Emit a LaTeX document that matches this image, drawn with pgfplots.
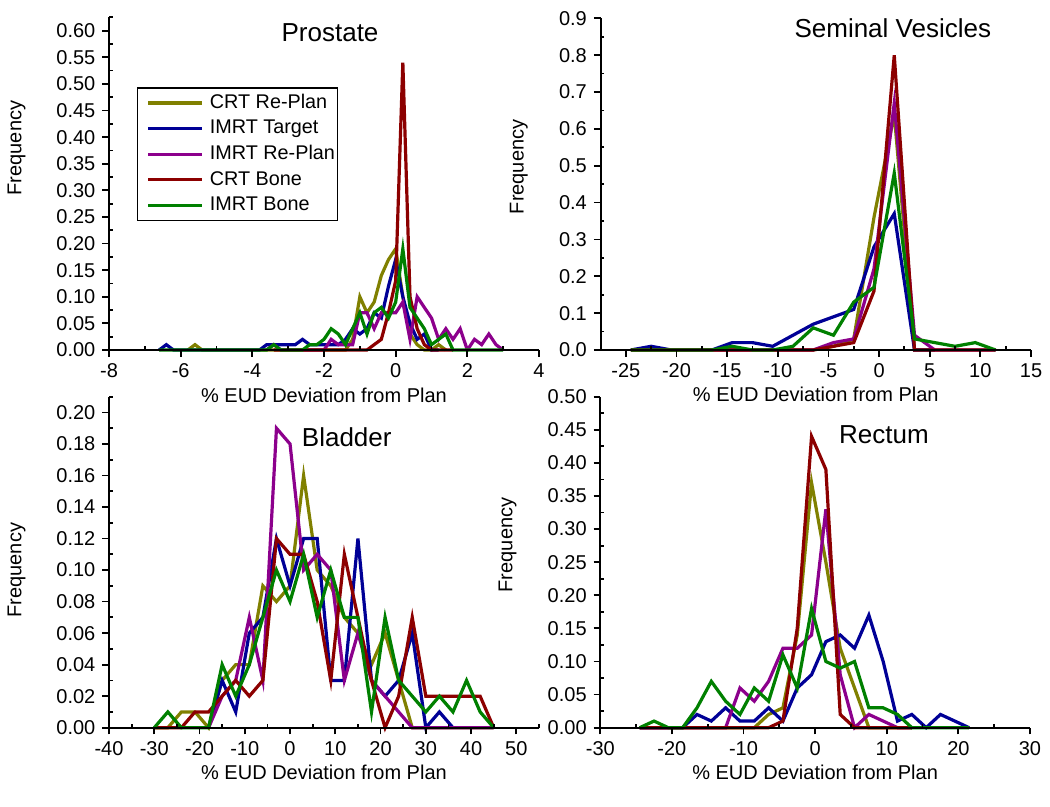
\documentclass[border=0pt]{standalone}
\usepackage{fontspec}
\setmainfont{Liberation Sans}
\usepackage{pgfplots}
\pgfplotsset{compat=1.18}

\definecolor{cOlive}{RGB}{128,128,0}
\definecolor{cNavy}{RGB}{0,0,150}
\definecolor{cPurple}{RGB}{140,0,140}
\definecolor{cWine}{RGB}{140,0,0}
\definecolor{cGreen}{RGB}{0,128,0}

\pgfplotsset{
  panel/.style={
    scale only axis,
    axis lines*=left,
    axis on top,
    clip=false,
    axis line style={line width=1pt, black},
    tick align=outside,
    major tick length=3.3pt,
    minor tick length=-1.8pt,
    every tick/.style={line width=0.9pt, black},
    tick label style={font=\fontsize{10}{12}\selectfont},
    /pgf/number format/assume math mode=true,
    label style={font=\fontsize{10}{12}\selectfont},
    xlabel={\% EUD Deviation from Plan},
    ylabel={Frequency},
    xlabel style={at={(axis description cs:0.5,-0.135)}, anchor=center},
    every axis plot/.append style={line width=1.6pt, mark=none},
  },
  yfmt2/.style={yticklabel style={/pgf/number format/.cd, fixed, fixed zerofill, precision=2}},
  yfmt1/.style={yticklabel style={/pgf/number format/.cd, fixed, fixed zerofill, precision=1}},
}

\begin{document}
\begin{tikzpicture}
\useasboundingbox (0pt,0pt) rectangle (525pt,403.5pt);

% ---------------- Prostate ----------------
\begin{axis}[panel, yfmt2,
  at={(54.5pt,228.5pt)}, anchor=south west,
  width=215pt, height=166.3pt,
  xmin=-8, xmax=4, ymin=0, ymax=0.625,
  xtick={-8,-6,-4,-2,0,2,4},
  minor xtick={-7,-5,-3,-1,1,3},
  ytick={0,0.05,0.1,0.15,0.2,0.25,0.3,0.35,0.4,0.45,0.5,0.55,0.6},
  minor ytick={0.025,0.075,0.125,0.175,0.225,0.275,0.325,0.375,0.425,0.475,0.525,0.575,0.625},
  ylabel style={at={(axis description cs:-0.215,0.607)}, anchor=center},
  legend style={at={(axis description cs:0.064,0.790)}, anchor=north west,
    draw=black, line width=0.8pt, font=\fontsize{9.9}{11.5}\selectfont,
    inner xsep=1.2pt, inner ysep=2.9pt, row sep=3.6pt, column sep=3pt,
    nodes={inner sep=0pt, text height=7.2pt, text depth=2pt},
    cells={anchor=west}},
  legend image code/.code={\path (0pt,0pt); \draw[#1] (3.5pt,0pt) -- (30.5pt,0pt);},
]
\addplot[cOlive] coordinates {(-5.8,0)(-5.6,0.01)(-5.4,0)(-1.4,0)(-1.2,0.02)(-1.0,0.10)(-0.8,0.07)(-0.6,0.09)(-0.4,0.14)(-0.2,0.17)(0.0,0.19)(0.2,0.10)(0.4,0.03)(0.6,0.01)(0.8,0)(1.0,0)(1.2,0.01)(1.4,0)};
\addlegendentry{CRT Re-Plan}
\addplot[cNavy] coordinates {(-6.6,0)(-6.4,0.01)(-6.2,0)(-3.8,0)(-3.6,0.01)(-3.4,0.01)(-3.2,0.01)(-3.0,0.01)(-2.8,0.01)(-2.6,0.02)(-2.4,0.01)(-2.2,0.01)(-2.0,0.01)(-1.8,0.01)(-1.6,0.01)(-1.4,0.02)(-1.2,0.04)(-1.0,0.03)(-0.8,0.04)(-0.6,0.07)(-0.4,0.06)(-0.2,0.12)(0.0,0.17)(0.2,0.10)(0.4,0.05)(0.6,0.02)(0.8,0.03)(1.0,0)(1.2,0)};
\addlegendentry{IMRT Target}
\addplot[cPurple] coordinates {(-3.6,0)(-3.4,0.01)(-3.2,0)(-2.0,0)(-1.8,0.02)(-1.6,0.01)(-1.4,0.01)(-1.2,0.01)(-1.0,0.07)(-0.8,0.07)(-0.6,0.04)(-0.4,0.07)(-0.2,0.07)(0.0,0.07)(0.2,0.09)(0.4,0.02)(0.6,0.10)(0.8,0.08)(1.0,0.06)(1.2,0.02)(1.4,0.04)(1.6,0.02)(1.8,0.04)(2.0,0)(2.2,0.02)(2.4,0.01)(2.6,0.03)(2.8,0.01)(3.0,0)};
\addlegendentry{IMRT Re-Plan}
\addplot[cWine] coordinates {(-3.4,0)(-0.8,0)(-0.6,0.01)(-0.4,0.02)(-0.2,0.07)(0.0,0.13)(0.2,0.54)(0.4,0.10)(0.6,0.04)(0.8,0.01)(1.0,0)(1.6,0)};
\addlegendentry{CRT Bone}
\addplot[cGreen] coordinates {(-6.6,0)(-3.6,0)(-3.4,0.01)(-3.2,0)(-2.6,0)(-2.4,0.01)(-2.2,0.01)(-2.0,0.02)(-1.8,0.04)(-1.6,0.03)(-1.4,0.01)(-1.2,0.04)(-1.0,0.07)(-0.8,0.03)(-0.6,0.07)(-0.4,0.08)(-0.2,0.06)(0.0,0.09)(0.2,0.19)(0.4,0.08)(0.6,0.06)(0.8,0.04)(1.0,0.01)(1.2,0.02)(1.4,0.03)(1.6,0)(3.0,0)};
\addlegendentry{IMRT Bone}
\node[font=\fontsize{13}{15}\selectfont] at (axis description cs:0.514,0.953) {Prostate};
\end{axis}

% ---------------- Seminal Vesicles ----------------
\begin{axis}[panel, yfmt1,
  at={(300.25pt,228.5pt)}, anchor=south west,
  width=215.25pt, height=165.85pt,
  xmin=-27.5, xmax=15, ymin=0, ymax=0.9,
  xtick={-25,-20,-15,-10,-5,0,5,10,15},
  minor xtick={-27.5,-22.5,-17.5,-12.5,-7.5,-2.5,2.5,7.5,12.5},
  ytick={0,0.1,0.2,0.3,0.4,0.5,0.6,0.7,0.8,0.9},
  minor ytick={0.05,0.15,0.25,0.35,0.45,0.55,0.65,0.75,0.85},
  ylabel style={at={(axis description cs:-0.190,0.552)}, anchor=center},
]
\addplot[cOlive] coordinates {(-24.5,0)(-6.5,0)(-4.5,0.01)(-2.5,0.03)(-0.5,0.36)(1.5,0.64)(3.5,0)(5.5,0)};
\addplot[cNavy] coordinates {(-24.5,0)(-22.5,0.01)(-20.5,0)(-16.5,0)(-14.5,0.02)(-12.5,0.02)(-10.5,0.01)(-8.5,0.04)(-6.5,0.07)(-4.5,0.09)(-2.5,0.11)(-0.5,0.28)(1.5,0.37)(3.5,0)(5.5,0)};
\addplot[cPurple] coordinates {(-24.5,0)(-6.5,0)(-4.5,0.02)(-2.5,0.03)(-0.5,0.22)(1.5,0.67)(3.5,0.04)(5.5,0)(11.5,0)};
\addplot[cWine] coordinates {(-24.5,0)(-6.5,0)(-4.5,0.01)(-2.5,0.02)(-0.5,0.16)(1.5,0.80)(3.5,0)(11.5,0)};
\addplot[cGreen] coordinates {(-24.5,0)(-16.5,0)(-14.5,0.01)(-12.5,0)(-10.5,0)(-8.5,0.01)(-6.5,0.06)(-4.5,0.04)(-2.5,0.13)(-0.5,0.17)(1.5,0.48)(3.5,0.03)(5.5,0.02)(7.5,0.01)(9.5,0.02)(11.5,0)};
\node[font=\fontsize{13}{15}\selectfont] at (axis description cs:0.679,0.971) {Seminal Vesicles};
\end{axis}

% ---------------- Bladder ----------------
\begin{axis}[panel, yfmt2,
  at={(54.5pt,39.65pt)}, anchor=south west,
  width=215pt, height=165.5pt,
  xmin=-40, xmax=55, ymin=0, ymax=0.21,
  xtick={-40,-30,-20,-10,0,10,20,30,40,50},
  minor xtick={-35,-25,-15,-5,5,15,25,35,45,55},
  ytick={0,0.02,0.04,0.06,0.08,0.1,0.12,0.14,0.16,0.18,0.2},
  minor ytick={0.01,0.03,0.05,0.07,0.09,0.11,0.13,0.15,0.17,0.19,0.21},
  ylabel style={at={(axis description cs:-0.215,0.476)}, anchor=center},
]
\addplot[cOlive] coordinates {(-30,0)(-27,0)(-24,0.01)(-21,0.01)(-18,0)(-15,0.03)(-12,0.04)(-9,0.04)(-6,0.09)(-3,0.08)(0,0.09)(3,0.16)(6,0.10)(9,0.09)(12,0.07)(15,0.06)(18,0.04)(21,0.06)(24,0.03)(27,0)(45,0)};
\addplot[cNavy] coordinates {(-18,0)(-15,0.03)(-12,0.01)(-9,0.06)(-6,0.07)(-3,0.12)(0,0.09)(3,0.12)(6,0.12)(9,0.03)(12,0.03)(15,0.12)(18,0.03)(21,0.02)(24,0.03)(27,0.06)(30,0)(33,0.01)(36,0)};
\addplot[cPurple] coordinates {(-18,0)(-15,0.02)(-12,0.03)(-9,0.07)(-6,0.03)(-3,0.19)(0,0.18)(3,0.10)(6,0.11)(9,0.10)(12,0.03)(15,0.06)(18,0.03)(21,0.02)(24,0.01)(27,0)(45,0)};
\addplot[cWine] coordinates {(-30,0)(-24,0)(-21,0.01)(-18,0.01)(-15,0.02)(-12,0.03)(-9,0.02)(-6,0.03)(-3,0.12)(0,0.11)(3,0.11)(6,0.08)(9,0.03)(12,0.11)(15,0.07)(18,0.03)(21,0)(24,0.02)(27,0.07)(30,0.02)(33,0.02)(36,0.02)(39,0.02)(42,0.02)(45,0)};
\addplot[cGreen] coordinates {(-30,0)(-27,0.01)(-24,0)(-18,0)(-15,0.04)(-12,0.02)(-9,0.04)(-6,0.07)(-3,0.10)(0,0.08)(3,0.11)(6,0.07)(9,0.10)(12,0.07)(15,0.07)(18,0.01)(21,0.07)(24,0.03)(27,0.02)(30,0.01)(33,0.02)(36,0.01)(39,0.03)(42,0.01)(45,0)};
\node[font=\fontsize{13}{15}\selectfont] at (axis description cs:0.553,0.877) {Bladder};
\end{axis}

% ---------------- Rectum ----------------
\begin{axis}[panel, yfmt2,
  at={(300.15pt,39.65pt)}, anchor=south west,
  width=214.85pt, height=165.5pt,
  xmin=-30, xmax=30, ymin=0, ymax=0.5,
  xtick={-30,-20,-10,0,10,20,30},
  minor xtick={-25,-15,-5,5,15,25},
  ytick={0,0.05,0.1,0.15,0.2,0.25,0.3,0.35,0.4,0.45,0.5},
  minor ytick={0.025,0.075,0.125,0.175,0.225,0.275,0.325,0.375,0.425,0.475},
  ylabel style={at={(axis description cs:-0.216,0.552)}, anchor=center},
]
\addplot[cOlive] coordinates {(-24.5,0)(-8.5,0)(-6.5,0.02)(-4.5,0.03)(-2.5,0.14)(-0.5,0.37)(1.5,0.25)(3.5,0.12)(5.5,0.06)(7.5,0)(13.5,0)};
\addplot[cNavy] coordinates {(-24.5,0)(-18.5,0)(-16.5,0.02)(-14.5,0.01)(-12.5,0.03)(-10.5,0.01)(-8.5,0.01)(-6.5,0.03)(-4.5,0.01)(-2.5,0.06)(-0.5,0.08)(1.5,0.13)(3.5,0.14)(5.5,0.12)(7.5,0.17)(9.5,0.10)(11.5,0.01)(13.5,0.02)(15.5,0)(17.5,0.02)(19.5,0.01)(21.5,0)};
\addplot[cPurple] coordinates {(-24.5,0)(-12.5,0)(-10.5,0.06)(-8.5,0.04)(-6.5,0.07)(-4.5,0.12)(-2.5,0.12)(-0.5,0.14)(1.5,0.33)(3.5,0.08)(5.5,0)(7.5,0.02)(9.5,0.01)(11.5,0)(13.5,0)};
\addplot[cWine] coordinates {(-24.5,0)(-6.5,0)(-4.5,0.01)(-2.5,0.15)(-0.5,0.44)(1.5,0.39)(3.5,0.02)(5.5,0)(13.5,0)};
\addplot[cGreen] coordinates {(-24.5,0)(-22.5,0.01)(-20.5,0)(-18.5,0)(-16.5,0.03)(-14.5,0.07)(-12.5,0.04)(-10.5,0.02)(-8.5,0.06)(-6.5,0.04)(-4.5,0.11)(-2.5,0.06)(-0.5,0.18)(1.5,0.10)(3.5,0.09)(5.5,0.10)(7.5,0.03)(9.5,0.03)(11.5,0.02)(13.5,0)(21.5,0)};
\node[font=\fontsize{13}{15}\selectfont] at (axis description cs:0.66,0.886) {Rectum};
\end{axis}
\end{tikzpicture}
\end{document}
